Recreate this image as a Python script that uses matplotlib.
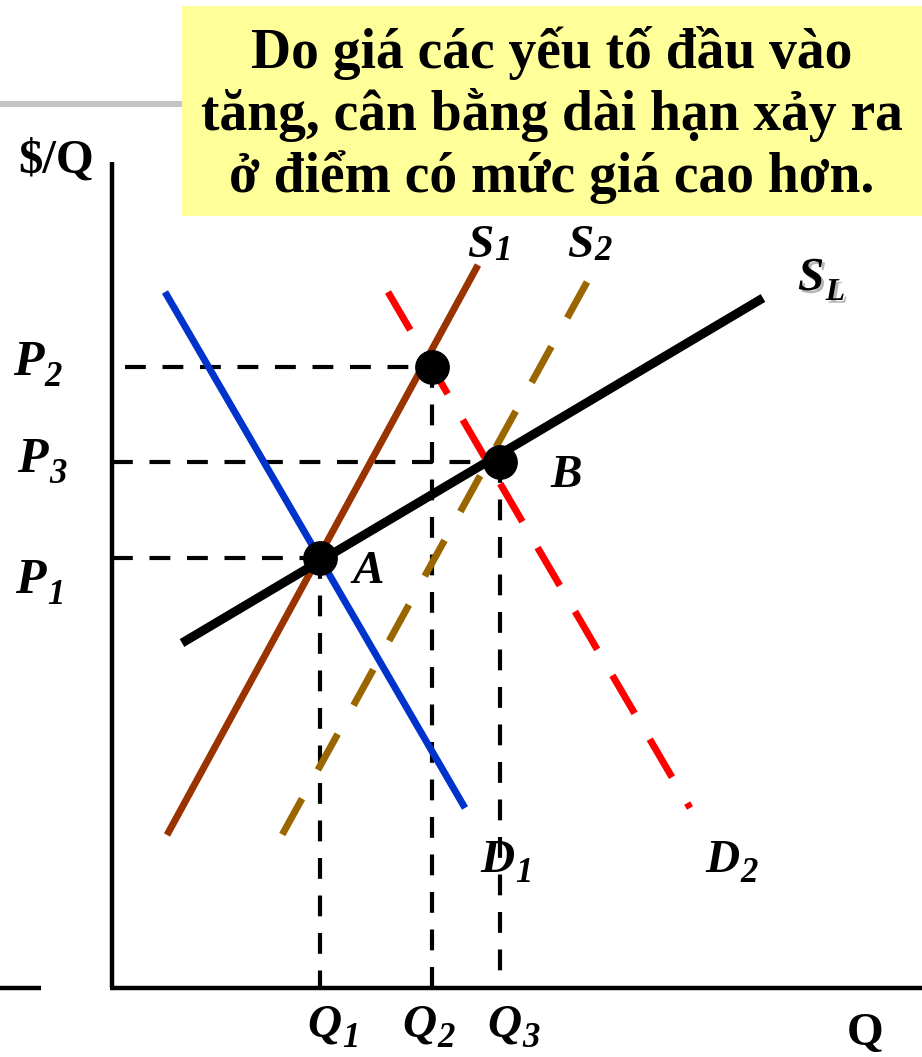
import matplotlib
matplotlib.use("Agg")
import matplotlib.pyplot as plt
import matplotlib.patheffects as pe
from matplotlib.patches import Rectangle

plt.rcParams['lines.scale_dashes'] = False
SERIF = ['Liberation Serif', 'DejaVu Serif']

# curves, end points in (Q, $/Q) units; dashed ones listed from the top end
d1_q = [53, 353]
d1_p = [696, 180]
d2_q = [276, 578]
d2_p = [696, 180]
s1_q = [55, 366]
s1_p = [153, 723]
s2_q = [475, 170]
s2_p = [706, 153]
sl_q = [70, 651]
sl_p = [345, 690]

# equilibrium points: A (Q1,P1), short run (Q2,P2), B (Q3,P3)
eq_q = [208, 320, 388]
eq_p = [430, 621, 526]
guide_from = [0, 13, 0]

q_max = 810
p_max = 826

title_lines = ["Do giá các yếu tố đầu vào",
               "tăng, cân bằng dài hạn xảy ra",
               "ở điểm có mức giá cao hơn."]

# (letter, subscript, x, y, raise of subscript in pt)
sub_labels = [
    ("P", "2", -99, 613, 0),
    ("P", "3", -95, 516, 0),
    ("P", "1", -97, 395, 0),
    ("Q", "1", 195, -49, 0),
    ("Q", "2", 290, -49, 0),
    ("Q", "3", 375, -49, 0),
    ("D", "1", 368, 116, 0),
    ("D", "2", 593, 116, 0),
    ("S", "1", 355, 731, 5),
    ("S", "2", 455, 731, 5),
]
point_labels = [("A", 240, 405), ("B", 438, 501)]

fig = plt.figure(figsize=(9.22, 10.57), dpi=100)
ax = fig.add_axes([0, 0, 1, 1])
ax.set_xlim(-112, 810)
ax.set_ylim(-69, 988)
ax.axis('off')

# header band and note box
ax.plot([-112, 70], [884, 884], color='#c4c4c4', lw=4.3, solid_capstyle='butt', zorder=1)
ax.add_patch(Rectangle((70, 772), 740, 210, facecolor='#FFFF99', edgecolor='none', zorder=2))
for i, line in enumerate(title_lines):
    ax.text(440, 920 - i * 62, line, ha='center', va='baseline', fontsize=40,
            fontweight='bold', family=SERIF, zorder=3)

# axes
ax.plot([0, 0], [0, p_max], color='black', lw=3.2, solid_capstyle='butt')
ax.plot([-2, q_max], [0, 0], color='black', lw=3.2, solid_capstyle='butt')
ax.plot([-112, -71], [0, 0], color='black', lw=3.2, solid_capstyle='butt')
ax.text(-94, 815, "$/Q", fontsize=35, fontweight='bold', family=SERIF, va='baseline')
ax.text(735, -57, "Q", fontsize=34, fontweight='bold', family=SERIF, va='baseline')

# dashed guides
for q, p, q0 in zip(eq_q, eq_p, guide_from):
    ax.plot([q0, q], [p, p], color='black', lw=3, dashes=(15, 12), zorder=4)
    ax.plot([q, q], [p, 0], color='black', lw=3, dashes=(15, 12), zorder=4)

# curves
ax.plot(d1_q, d1_p, color='#0033CC', lw=5, solid_capstyle='butt', zorder=5)
ax.plot(s1_q, s1_p, color='#993300', lw=5, solid_capstyle='butt', zorder=5)
ax.plot(s2_q, s2_p, color='#996600', lw=5, dashes=(29.5, 23.6), dash_capstyle='butt', zorder=5)
ax.plot(d2_q, d2_p, color='#FF0000', lw=5, dashes=(31.7, 21.6), dash_capstyle='butt', zorder=5)
ax.plot(sl_q, sl_p, color='black', lw=6.5, solid_capstyle='butt', zorder=6)
ax.plot(eq_q, eq_p, 'o', color='black', markersize=24, zorder=7)

# labels
for main, sub, x, y, up in sub_labels:
    size = 36 if main == "P" else 34
    t = ax.text(x, y, main, fontsize=size, fontweight='bold', fontstyle='italic',
                family=SERIF, va='baseline', zorder=3)
    ax.annotate(sub, xy=(1, 0), xycoords=t, xytext=(1, up), textcoords='offset points',
                fontsize=25, fontweight='bold', fontstyle='italic', family=SERIF,
                va='baseline', ha='left', zorder=3)
for name, x, y in point_labels:
    ax.text(x, y, name, fontsize=34, fontweight='bold', fontstyle='italic',
            family=SERIF, va='baseline', zorder=3)

shadow = [pe.SimplePatchShadow(offset=(2, -2), shadow_rgbFace='#888888', alpha=0.6), pe.Normal()]
sl_t = ax.text(686, 698, "S", fontsize=34, fontweight='bold', fontstyle='italic',
               family=SERIF, va='baseline', path_effects=shadow)
ax.annotate("L", xy=(1, 0), xycoords=sl_t, xytext=(1, 0), textcoords='offset points',
            fontsize=23, fontweight='bold', fontstyle='italic', family=SERIF,
            va='baseline', path_effects=shadow)

fig.savefig("out.png", dpi=100)
